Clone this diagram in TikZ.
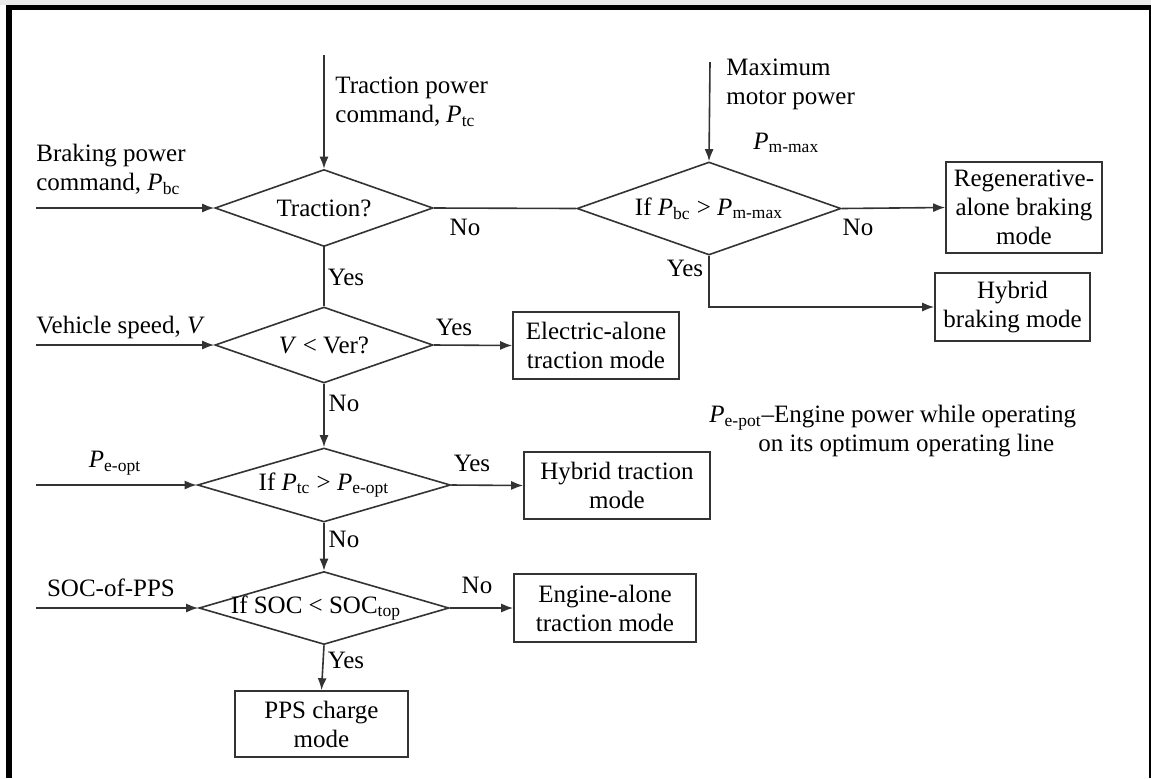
\documentclass[tikz,border=0pt]{standalone}
\usepackage{fontspec}
\setmainfont{Liberation Serif}
\usetikzlibrary{shapes.geometric,arrows.meta}
\begin{document}
\begin{tikzpicture}[x=0.5pt,y=-0.5pt,
  font=\fontsize{12.5}{14.5}\selectfont,
  ln/.style={draw=black!80, line width=0.8pt},
  arr/.style={ln,-{Latex[length=6pt,width=4.5pt]}},
  dec/.style={diamond, ln, inner sep=0pt, aspect=3, text=black},
  modebox/.style={rectangle, ln, inner sep=0pt, align=center, text=black},
  lbl/.style={inner sep=0pt, text=black}]
\useasboundingbox (0,0) rectangle (1151,778);
% frame
\fill[black!8] (0,0) rectangle (1151,4.7);
\fill[black] (6,4.7) rectangle (1151,10);
\fill[black] (6,4.7) rectangle (12,778);
\fill[black] (1148.5,4.7) rectangle (1150.5,778);

% decisions
\node[dec, minimum width=109pt, minimum height=38.5pt] (d1) at (324,208) {\makebox[0pt]{Traction?}};
\node[dec, minimum width=132pt, minimum height=46.5pt] (d2) at (709,208.5) {\makebox[0pt]{If \textit{P}\textsubscript{bc} > \textit{P}\textsubscript{m-max}}};
\node[dec, minimum width=109pt, minimum height=38pt] (d3) at (324,345) {\makebox[0pt]{\textit{V} < Ver?}};
\node[dec, minimum width=126.5pt, minimum height=37pt] (d4) at (324,485) {\makebox[0pt]{If \textit{P}\textsubscript{tc} > \textit{P}\textsubscript{e-opt}}};
\node[dec, minimum width=125pt, minimum height=36.5pt] (d5) at (324,608) {\makebox[0pt]{\hspace*{-8pt}If SOC < SOC\textsubscript{top}}};

% mode boxes
\node[modebox, minimum width=78pt, minimum height=45.5pt] (regen) at (1024,207.5) {Regenerative-\\alone braking\\mode};
\node[modebox, minimum width=77.5pt, minimum height=34pt] (hybb) at (1012.5,307) {Hybrid\\braking mode};
\node[modebox, minimum width=83pt, minimum height=33.5pt] (elec) at (596,345.5) {Electric-alone\\traction mode};
\node[modebox, minimum width=93pt, minimum height=33.5pt] (hybt) at (617,485.5) {Hybrid traction\\mode};
\node[modebox, minimum width=91pt, minimum height=34pt] (eng) at (605,608) {Engine-alone\\traction mode};
\node[modebox, minimum width=86.5pt, minimum height=33pt] (pps) at (321.5,724) {PPS charge\\mode};

% input points
\coordinate (tin) at (324,55);
\coordinate (bin) at (36,208);
\coordinate (min) at (710,62);
\coordinate (vin) at (36,345);
\coordinate (pin) at (36,485);
\coordinate (sin) at (36,608);

% input texts
\node[lbl, align=left, anchor=west] (ttxt) at (335,102) {Traction power\\command, \textit{P}\textsubscript{tc}};
\node[lbl, align=left, anchor=west] (btxt) at (36,169) {Braking power\\command, \textit{P}\textsubscript{bc}};
\node[lbl, align=left, anchor=west] (mtxt) at (726,84) {Maximum\\motor power};
\node[lbl, anchor=west] (mmax) at (753,143) {\textit{P}\textsubscript{m-max}};
\node[lbl, anchor=west] (vtxt) at (36,327) {Vehicle speed, \textit{V}};
\node[lbl] (ptxt) at (115,463) {\textit{P}\textsubscript{e-opt}};
\node[lbl] (stxt) at (111,588) {SOC-of-PPS};
\node[lbl, align=left, anchor=west] (note) at (709,431) {\textit{P}\textsubscript{e-pot}–Engine power while operating\\\hspace*{24.5pt}on its optimum operating line};

% connectors
\draw[arr] (tin) -- (d1.north);
\draw[arr] (bin) -- (d1.west);
\draw[ln] (d1.east) -- (d2.west);
\draw[ln] (d1.south) -- (d3.north);
\draw[arr] (min) -- (d2.north);
\draw[arr] (d2.east) -- (regen.west);
\draw[arr] (d2.south) |- (hybb.west);
\draw[arr] (vin) -- (d3.west);
\draw[arr] (d3.east) -- (elec.west);
\draw[arr] (d3.south) -- (d4.north);
\draw[arr] (pin) -- (d4.west);
\draw[arr] (d4.east) -- (hybt.west);
\draw[arr] (d4.south) -- (d5.north);
\draw[arr] (sin) -- (d5.west);
\draw[arr] (d5.east) -- (eng.west);
\draw[arr] (d5.south) -- (pps.north);

% branch labels
\node[lbl] (no1) at (465,227) {No};
\node[lbl] (yes1) at (346,277) {Yes};
\node[lbl] (no2) at (858,227) {No};
\node[lbl] (yes2) at (685,268) {Yes};
\node[lbl] (yes3) at (454,327) {Yes};
\node[lbl] (no3) at (344,403) {No};
\node[lbl] (yes4) at (472,463) {Yes};
\node[lbl] (no4) at (344,539) {No};
\node[lbl] (no5) at (477,585) {No};
\node[lbl] (yes5) at (346,660) {Yes};
\end{tikzpicture}
\end{document}
